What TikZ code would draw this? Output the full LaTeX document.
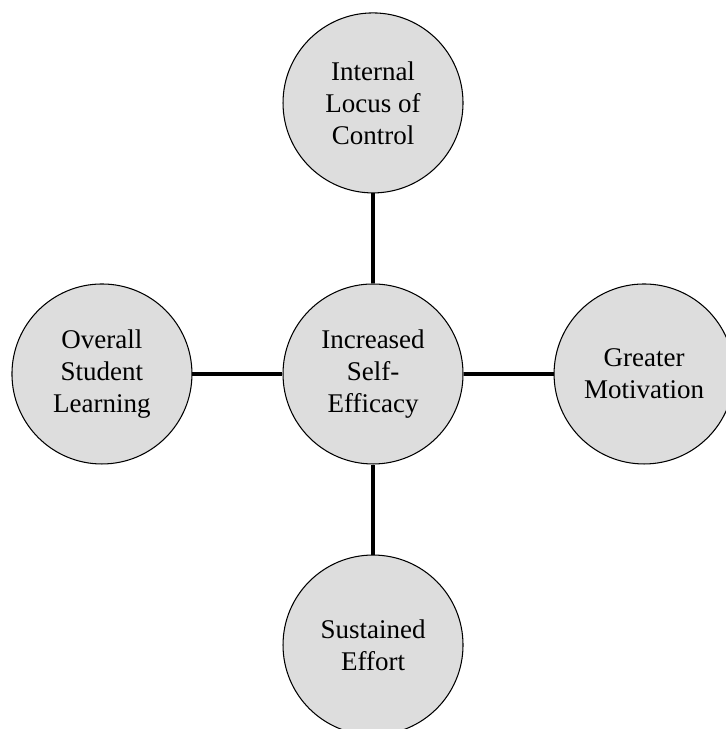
\documentclass[tikz,border=0pt]{standalone}
\usepackage{fontspec}
\setmainfont{Liberation Serif}
\usetikzlibrary{positioning}
\definecolor{bubblegray}{RGB}{221,221,221}

\begin{document}
\begin{tikzpicture}[
	line width=0.5pt,
	font=\fontsize{12.8}{15.2}\selectfont
]
\tikzset{
    bubble/.style = {circle, draw=black, align=center, fill=bubblegray, minimum size=3cm, inner sep=1pt},
    link/.style = {line width=1.8pt},
}

    \useasboundingbox (-6.217,-5.917) rectangle (5.867,6.233);

    \node (self) [bubble] at (0,0) {Increased\\Self-\\Efficacy};
    \node (locus) [bubble, above=1.5cm of self] {Internal\\Locus of\\Control};
    \node (motiv) [bubble, right=1.5cm of self] {Greater\\Motivation};
    \node (effort) [bubble, below=1.5cm of self] {Sustained\\Effort};
    \node (learn) [bubble, left=1.5cm of self] {Overall\\Student\\Learning};

    \draw[link] (self) -- (locus);
    \draw[link] (self) -- (motiv);
    \draw[link] (self) -- (effort);
    \draw[link] (self) -- (learn);
\end{tikzpicture}
\end{document}
